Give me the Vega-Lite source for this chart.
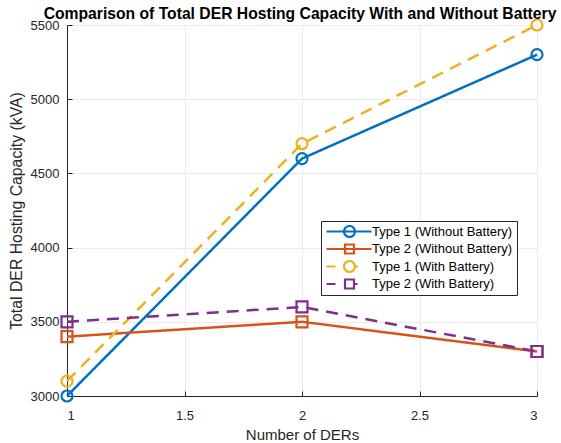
{
  "$schema": "https://vega.github.io/schema/vega-lite/v6.json",
  "width": 470,
  "height": 371,
  "autosize": {"type": "none"},
  "padding": {"left": 67, "top": 25, "right": 24, "bottom": 47},
  "background": "white",
  "title": {
    "text": "Comparison of Total DER Hosting Capacity With and Without Battery",
    "font": "Liberation Sans",
    "fontSize": 15.7,
    "fontWeight": "bold",
    "color": "#000000",
    "anchor": "middle",
    "offset": 6,
    "dy": 14,
    "dx": -2
  },
  "data": {
    "values": [
      {"n": 1, "cap": 3000, "series": "Type 1 (Without Battery)", "type": "Type 1", "battery": "Without"},
      {"n": 2, "cap": 4600, "series": "Type 1 (Without Battery)", "type": "Type 1", "battery": "Without"},
      {"n": 3, "cap": 5300, "series": "Type 1 (Without Battery)", "type": "Type 1", "battery": "Without"},
      {"n": 1, "cap": 3400, "series": "Type 2 (Without Battery)", "type": "Type 2", "battery": "Without"},
      {"n": 2, "cap": 3500, "series": "Type 2 (Without Battery)", "type": "Type 2", "battery": "Without"},
      {"n": 3, "cap": 3300, "series": "Type 2 (Without Battery)", "type": "Type 2", "battery": "Without"},
      {"n": 1, "cap": 3100, "series": "Type 1 (With Battery)", "type": "Type 1", "battery": "With"},
      {"n": 2, "cap": 4700, "series": "Type 1 (With Battery)", "type": "Type 1", "battery": "With"},
      {"n": 3, "cap": 5500, "series": "Type 1 (With Battery)", "type": "Type 1", "battery": "With"},
      {"n": 1, "cap": 3500, "series": "Type 2 (With Battery)", "type": "Type 2", "battery": "With"},
      {"n": 2, "cap": 3600, "series": "Type 2 (With Battery)", "type": "Type 2", "battery": "With"},
      {"n": 3, "cap": 3300, "series": "Type 2 (With Battery)", "type": "Type 2", "battery": "With"}
    ]
  },
  "encoding": {
    "x": {
      "field": "n",
      "type": "quantitative",
      "title": "Number of DERs",
      "scale": {"domain": [1, 3], "nice": false, "zero": false},
      "axis": {"values": [1, 1.5, 2, 2.5, 3], "format": "~g", "labelPadding": 18, "titlePadding": 5, "titleFontSize": 15}
    },
    "y": {
      "field": "cap",
      "type": "quantitative",
      "title": "Total DER Hosting Capacity (kVA)",
      "scale": {"domain": [3000, 5500], "nice": false, "zero": false},
      "axis": {"values": [3000, 3500, 4000, 4500, 5000, 5500], "format": "d", "labelPadding": 13, "titlePadding": 6, "titleFontSize": 15.8}
    },
    "color": {
      "field": "series",
      "type": "nominal",
      "sort": null,
      "scale": {
        "domain": ["Type 1 (Without Battery)", "Type 2 (Without Battery)", "Type 1 (With Battery)", "Type 2 (With Battery)"],
        "range": ["#0072BD", "#D95319", "#EDB120", "#7E2F8E"]
      },
      "legend": {
        "title": null,
        "orient": "none",
        "legendX": 254,
        "legendY": 196,
        "padding": 4,
        "fillColor": "white",
        "strokeColor": "#262626",
        "symbolSize": 100,
        "symbolStrokeWidth": 2,
        "symbolFillColor": "transparent",
        "labelOffset": 34,
        "labelFont": "Liberation Sans",
        "labelFontSize": 13,
        "labelColor": "#000000",
        "clipHeight": 13,
        "rowPadding": 3.5,
        "encode": {
          "symbols": {
            "update": {
              "shape": {"signal": "datum.value == 'Type 1 (Without Battery)' ? 'M-1,0H8M4.7,0A1.1,1.1 0 1,1 2.5,0A1.1,1.1 0 1,1 4.7,0' : datum.value == 'Type 2 (Without Battery)' ? 'M-1,0H8M2.7,-0.9H4.5V0.9H2.7Z' : datum.value == 'Type 1 (With Battery)' ? 'M-1,0H0.8M4.7,0H5.3M4.7,0A1.1,1.1 0 1,1 2.5,0A1.1,1.1 0 1,1 4.7,0' : 'M-1,0H0.8M4.5,0H5.2M2.7,-0.9H4.5V0.9H2.7Z'"},
              "size": {"value": 100},
              "fill": {"value": "transparent"},
              "strokeWidth": {"value": 2.2},
              "strokeDash": {"value": []},
              "opacity": {"value": 1}
            }
          }
        }
      }
    }
  },
  "layer": [
    {
      "mark": {"type": "line", "strokeWidth": 2.5, "clip": false},
      "encoding": {
        "detail": {"field": "series", "type": "nominal"},
        "strokeDash": {
          "field": "battery",
          "type": "nominal",
          "scale": {"domain": ["Without", "With"], "range": [[1, 0], [12, 8]]},
          "legend": null
        }
      }
    },
    {
      "mark": {"type": "point", "filled": false, "strokeWidth": 2.2, "opacity": 1, "size": 121, "clip": false},
      "encoding": {
        "shape": {
          "field": "type",
          "type": "nominal",
          "scale": {"domain": ["Type 1", "Type 2"], "range": ["circle", "square"]},
          "legend": null
        }
      }
    }
  ],
  "config": {
    "view": {"stroke": null},
    "axis": {
      "domainColor": "#262626",
      "tickColor": "#262626",
      "tickSize": -5,
      "gridColor": "#ebebeb",
      "gridWidth": 1,
      "labelFont": "Liberation Sans",
      "labelFontSize": 13,
      "labelColor": "#262626",
      "titleFont": "Liberation Sans",
      "titleFontSize": 15,
      "titleFontWeight": "normal",
      "titleColor": "#262626"
    }
  }
}
